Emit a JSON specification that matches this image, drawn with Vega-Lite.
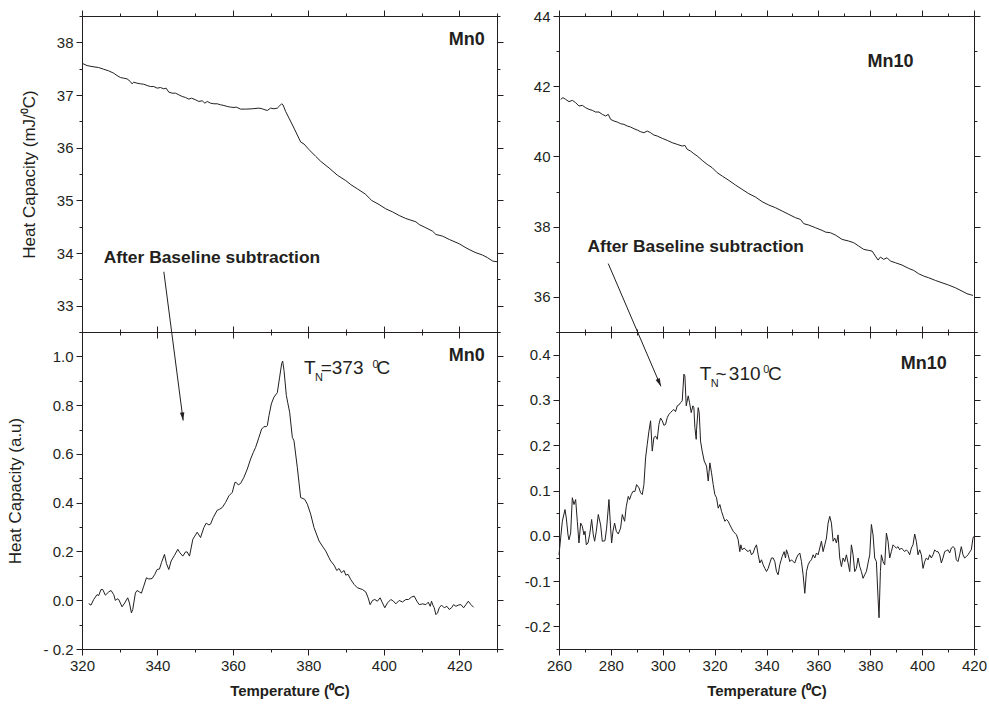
{
 "$schema": "https://vega.github.io/schema/vega-lite/v6.json",
 "background": "white",
 "padding": {"left": 6, "top": 9, "right": 4, "bottom": 4},
 "config": {
  "font": "Liberation Sans",
  "view": {"stroke": null},
  "axis": {"grid": false, "domainColor": "#231f20", "tickColor": "#231f20", "labelColor": "#231f20", "titleColor": "#231f20", "labelFont": "Liberation Sans", "labelFontSize": 15, "titleFont": "Liberation Sans", "labelFlush": false, "labelOverlap": false, "labelPadding": 3, "domainWidth": 1, "tickWidth": 1}
 },
 "datasets": {
  "tl": [{"t":320.00,"c":37.603},{"t":321.33,"c":37.559},{"t":322.65,"c":37.540},{"t":324.42,"c":37.521},{"t":325.75,"c":37.489},{"t":327.08,"c":37.458},{"t":328.41,"c":37.414},{"t":329.29,"c":37.369},{"t":330.18,"c":37.332},{"t":331.06,"c":37.319},{"t":331.95,"c":37.306},{"t":332.83,"c":37.256},{"t":333.27,"c":37.212},{"t":333.72,"c":37.243},{"t":334.60,"c":37.224},{"t":335.49,"c":37.212},{"t":336.37,"c":37.205},{"t":337.26,"c":37.180},{"t":338.14,"c":37.161},{"t":339.03,"c":37.161},{"t":339.91,"c":37.130},{"t":340.80,"c":37.142},{"t":341.68,"c":37.117},{"t":342.30,"c":37.130},{"t":343.01,"c":37.054},{"t":343.89,"c":37.035},{"t":344.78,"c":37.035},{"t":345.66,"c":37.003},{"t":346.55,"c":36.972},{"t":347.43,"c":36.953},{"t":348.32,"c":36.921},{"t":349.03,"c":36.940},{"t":350.09,"c":36.909},{"t":350.97,"c":36.877},{"t":351.86,"c":36.890},{"t":352.57,"c":36.845},{"t":353.19,"c":36.877},{"t":354.07,"c":36.845},{"t":354.96,"c":36.833},{"t":355.84,"c":36.833},{"t":356.73,"c":36.814},{"t":357.61,"c":36.801},{"t":358.50,"c":36.782},{"t":359.38,"c":36.770},{"t":360.27,"c":36.763},{"t":360.88,"c":36.770},{"t":362.04,"c":36.732},{"t":363.36,"c":36.732},{"t":365.13,"c":36.738},{"t":366.90,"c":36.751},{"t":367.79,"c":36.738},{"t":368.50,"c":36.719},{"t":369.12,"c":36.707},{"t":370.00,"c":36.751},{"t":370.88,"c":36.738},{"t":371.77,"c":36.751},{"t":372.39,"c":36.795},{"t":372.92,"c":36.833},{"t":373.27,"c":36.814},{"t":373.98,"c":36.688},{"t":374.87,"c":36.561},{"t":376.19,"c":36.372},{"t":377.96,"c":36.107},{"t":378.85,"c":36.069},{"t":380.18,"c":35.962},{"t":381.95,"c":35.835},{"t":383.27,"c":35.741},{"t":385.49,"c":35.614},{"t":387.70,"c":35.476},{"t":389.91,"c":35.375},{"t":391.24,"c":35.299},{"t":393.01,"c":35.217},{"t":395.04,"c":35.122},{"t":396.11,"c":35.046},{"t":396.81,"c":34.996},{"t":398.76,"c":34.920},{"t":400.53,"c":34.838},{"t":402.30,"c":34.781},{"t":404.07,"c":34.712},{"t":405.84,"c":34.655},{"t":408.50,"c":34.592},{"t":409.38,"c":34.541},{"t":411.15,"c":34.478},{"t":412.92,"c":34.415},{"t":413.81,"c":34.352},{"t":415.58,"c":34.320},{"t":417.35,"c":34.257},{"t":420.00,"c":34.175},{"t":421.77,"c":34.099},{"t":423.10,"c":34.049},{"t":424.42,"c":34.005},{"t":426.19,"c":33.960},{"t":427.52,"c":33.910},{"t":428.85,"c":33.847},{"t":430.00,"c":33.834}],
  "bl": [{"t":321.77,"c":-0.014},{"t":322.39,"c":-0.020},{"t":323.10,"c":0.003},{"t":323.98,"c":0.023},{"t":324.42,"c":0.019},{"t":325.04,"c":0.044},{"t":325.49,"c":0.044},{"t":326.19,"c":0.021},{"t":327.08,"c":0.034},{"t":327.70,"c":0.040},{"t":328.41,"c":0.023},{"t":328.85,"c":-0.001},{"t":329.29,"c":0.006},{"t":329.73,"c":0.003},{"t":330.62,"c":-0.027},{"t":331.33,"c":-0.011},{"t":332.12,"c":0.010},{"t":332.57,"c":-0.011},{"t":333.10,"c":-0.052},{"t":333.45,"c":-0.038},{"t":334.16,"c":0.030},{"t":334.60,"c":0.040},{"t":335.22,"c":0.034},{"t":335.75,"c":0.029},{"t":336.37,"c":0.058},{"t":337.08,"c":0.092},{"t":337.70,"c":0.087},{"t":338.58,"c":0.089},{"t":339.29,"c":0.106},{"t":339.91,"c":0.126},{"t":340.53,"c":0.128},{"t":341.06,"c":0.154},{"t":341.86,"c":0.188},{"t":342.39,"c":0.150},{"t":343.01,"c":0.126},{"t":343.63,"c":0.161},{"t":344.51,"c":0.184},{"t":345.40,"c":0.209},{"t":345.93,"c":0.195},{"t":346.73,"c":0.181},{"t":347.43,"c":0.198},{"t":347.88,"c":0.198},{"t":348.50,"c":0.181},{"t":349.38,"c":0.250},{"t":349.91,"c":0.263},{"t":350.53,"c":0.279},{"t":351.42,"c":0.257},{"t":352.30,"c":0.298},{"t":352.92,"c":0.316},{"t":353.63,"c":0.309},{"t":354.07,"c":0.312},{"t":354.78,"c":0.339},{"t":355.84,"c":0.369},{"t":356.46,"c":0.373},{"t":357.17,"c":0.380},{"t":358.05,"c":0.401},{"t":358.94,"c":0.428},{"t":359.82,"c":0.442},{"t":360.53,"c":0.483},{"t":360.88,"c":0.483},{"t":361.42,"c":0.473},{"t":362.04,"c":0.479},{"t":362.92,"c":0.504},{"t":363.81,"c":0.538},{"t":364.69,"c":0.579},{"t":365.40,"c":0.606},{"t":366.02,"c":0.627},{"t":366.90,"c":0.668},{"t":367.61,"c":0.702},{"t":368.23,"c":0.712},{"t":368.85,"c":0.712},{"t":369.12,"c":0.716},{"t":369.56,"c":0.757},{"t":370.18,"c":0.805},{"t":370.88,"c":0.833},{"t":371.77,"c":0.851},{"t":372.39,"c":0.915},{"t":372.92,"c":0.970},{"t":373.19,"c":0.981},{"t":373.54,"c":0.943},{"t":374.16,"c":0.840},{"t":374.51,"c":0.812},{"t":375.04,"c":0.771},{"t":375.75,"c":0.668},{"t":376.19,"c":0.654},{"t":377.07,"c":0.545},{"t":377.96,"c":0.421},{"t":379.02,"c":0.414},{"t":379.73,"c":0.394},{"t":380.61,"c":0.353},{"t":381.50,"c":0.298},{"t":382.83,"c":0.243},{"t":383.71,"c":0.222},{"t":384.60,"c":0.202},{"t":385.48,"c":0.174},{"t":385.92,"c":0.161},{"t":386.81,"c":0.144},{"t":387.52,"c":0.122},{"t":388.14,"c":0.130},{"t":388.76,"c":0.113},{"t":389.46,"c":0.122},{"t":389.91,"c":0.103},{"t":390.53,"c":0.106},{"t":391.23,"c":0.085},{"t":392.12,"c":0.065},{"t":393.00,"c":0.051},{"t":394.33,"c":0.044},{"t":395.22,"c":0.034},{"t":395.84,"c":0.010},{"t":396.37,"c":-0.018},{"t":396.99,"c":-0.001},{"t":397.61,"c":0.003},{"t":398.31,"c":-0.004},{"t":399.02,"c":0.010},{"t":399.64,"c":-0.011},{"t":400.26,"c":-0.031},{"t":400.97,"c":-0.011},{"t":401.85,"c":0.003},{"t":402.56,"c":-0.004},{"t":403.18,"c":-0.015},{"t":404.07,"c":-0.001},{"t":404.95,"c":-0.007},{"t":405.84,"c":0.003},{"t":406.54,"c":0.003},{"t":407.34,"c":0.013},{"t":408.05,"c":0.017},{"t":408.76,"c":-0.004},{"t":409.38,"c":-0.018},{"t":410.26,"c":-0.015},{"t":411.15,"c":-0.018},{"t":411.77,"c":-0.008},{"t":412.30,"c":-0.025},{"t":412.65,"c":-0.004},{"t":413.00,"c":-0.020},{"t":413.36,"c":-0.031},{"t":413.80,"c":-0.059},{"t":414.24,"c":-0.052},{"t":414.69,"c":-0.031},{"t":415.30,"c":-0.020},{"t":416.01,"c":-0.031},{"t":416.72,"c":-0.025},{"t":417.34,"c":-0.038},{"t":417.96,"c":-0.031},{"t":418.49,"c":-0.018},{"t":419.11,"c":-0.025},{"t":419.73,"c":-0.020},{"t":420.44,"c":-0.018},{"t":421.15,"c":-0.031},{"t":421.77,"c":-0.018},{"t":422.39,"c":-0.004},{"t":423.09,"c":-0.018},{"t":423.80,"c":-0.029}],
  "tr": [{"t":260.64,"c":41.626},{"t":261.54,"c":41.674},{"t":262.57,"c":41.626},{"t":263.85,"c":41.560},{"t":265.14,"c":41.598},{"t":266.42,"c":41.531},{"t":267.70,"c":41.436},{"t":268.99,"c":41.455},{"t":270.27,"c":41.389},{"t":271.56,"c":41.341},{"t":272.84,"c":41.313},{"t":274.12,"c":41.265},{"t":275.41,"c":41.265},{"t":276.69,"c":41.199},{"t":277.98,"c":41.151},{"t":279.00,"c":41.199},{"t":279.90,"c":41.056},{"t":281.19,"c":41.009},{"t":282.47,"c":40.980},{"t":283.75,"c":40.933},{"t":285.04,"c":40.914},{"t":286.32,"c":40.866},{"t":287.61,"c":40.838},{"t":288.89,"c":40.790},{"t":290.17,"c":40.752},{"t":291.46,"c":40.705},{"t":292.74,"c":40.676},{"t":294.03,"c":40.724},{"t":295.31,"c":40.676},{"t":296.59,"c":40.610},{"t":297.88,"c":40.581},{"t":299.80,"c":40.515},{"t":301.73,"c":40.458},{"t":303.66,"c":40.391},{"t":305.58,"c":40.344},{"t":307.51,"c":40.296},{"t":308.54,"c":40.315},{"t":309.44,"c":40.202},{"t":310.72,"c":40.154},{"t":312.00,"c":40.078},{"t":313.29,"c":40.012},{"t":315.21,"c":39.888},{"t":317.14,"c":39.774},{"t":319.07,"c":39.679},{"t":320.99,"c":39.537},{"t":322.92,"c":39.442},{"t":325.49,"c":39.318},{"t":328.05,"c":39.185},{"t":330.62,"c":39.062},{"t":333.19,"c":38.939},{"t":335.76,"c":38.843},{"t":338.33,"c":38.711},{"t":340.89,"c":38.616},{"t":343.46,"c":38.540},{"t":346.03,"c":38.445},{"t":348.60,"c":38.350},{"t":351.17,"c":38.255},{"t":353.09,"c":38.207},{"t":354.38,"c":38.084},{"t":356.30,"c":38.046},{"t":358.87,"c":37.970},{"t":361.44,"c":37.894},{"t":362.72,"c":37.846},{"t":364.65,"c":37.827},{"t":366.58,"c":37.761},{"t":369.14,"c":37.637},{"t":371.71,"c":37.590},{"t":373.64,"c":37.542},{"t":375.56,"c":37.447},{"t":377.49,"c":37.353},{"t":379.42,"c":37.324},{"t":380.70,"c":37.305},{"t":381.98,"c":37.163},{"t":383.01,"c":37.049},{"t":383.91,"c":37.134},{"t":385.19,"c":37.068},{"t":386.48,"c":37.115},{"t":387.76,"c":37.020},{"t":389.69,"c":36.973},{"t":392.26,"c":36.906},{"t":394.83,"c":36.811},{"t":396.75,"c":36.754},{"t":398.68,"c":36.659},{"t":400.60,"c":36.593},{"t":402.53,"c":36.545},{"t":405.10,"c":36.469},{"t":407.66,"c":36.403},{"t":410.23,"c":36.336},{"t":412.80,"c":36.261},{"t":415.37,"c":36.165},{"t":417.29,"c":36.090},{"t":419.61,"c":36.042}],
  "br": [{"t":260.00,"c":-0.042},{"t":260.64,"c":-0.005},{"t":261.28,"c":0.032},{"t":262.31,"c":0.058},{"t":262.82,"c":0.039},{"t":263.47,"c":0.002},{"t":263.85,"c":-0.009},{"t":264.49,"c":0.006},{"t":265.14,"c":0.084},{"t":265.78,"c":0.069},{"t":266.42,"c":0.080},{"t":267.06,"c":0.032},{"t":267.70,"c":-0.016},{"t":268.35,"c":0.028},{"t":268.99,"c":0.021},{"t":269.63,"c":0.002},{"t":270.02,"c":0.010},{"t":270.53,"c":-0.020},{"t":271.17,"c":-0.016},{"t":271.81,"c":0.002},{"t":272.58,"c":0.036},{"t":273.23,"c":0.002},{"t":273.74,"c":-0.012},{"t":274.38,"c":0.010},{"t":275.15,"c":0.047},{"t":276.05,"c":0.024},{"t":276.69,"c":-0.012},{"t":277.72,"c":-0.011},{"t":278.36,"c":0.017},{"t":279.26,"c":0.080},{"t":279.90,"c":0.017},{"t":280.29,"c":-0.016},{"t":280.80,"c":0.010},{"t":281.44,"c":0.028},{"t":282.09,"c":0.010},{"t":282.86,"c":0.004},{"t":283.75,"c":0.017},{"t":284.40,"c":0.047},{"t":285.30,"c":0.032},{"t":285.94,"c":0.065},{"t":286.71,"c":0.087},{"t":287.22,"c":0.080},{"t":287.86,"c":0.091},{"t":288.51,"c":0.098},{"t":289.28,"c":0.098},{"t":289.92,"c":0.113},{"t":290.82,"c":0.106},{"t":291.46,"c":0.095},{"t":292.10,"c":0.091},{"t":292.74,"c":0.113},{"t":293.38,"c":0.172},{"t":294.03,"c":0.202},{"t":294.67,"c":0.231},{"t":295.31,"c":0.254},{"t":295.95,"c":0.187},{"t":296.59,"c":0.217},{"t":297.24,"c":0.220},{"t":297.88,"c":0.213},{"t":298.52,"c":0.246},{"t":299.16,"c":0.260},{"t":299.80,"c":0.254},{"t":300.45,"c":0.244},{"t":301.09,"c":0.246},{"t":301.73,"c":0.261},{"t":302.37,"c":0.268},{"t":303.01,"c":0.272},{"t":303.66,"c":0.276},{"t":304.30,"c":0.279},{"t":304.94,"c":0.274},{"t":305.58,"c":0.287},{"t":306.23,"c":0.289},{"t":306.87,"c":0.294},{"t":307.51,"c":0.298},{"t":308.15,"c":0.357},{"t":308.54,"c":0.353},{"t":309.05,"c":0.287},{"t":309.82,"c":0.309},{"t":310.33,"c":0.294},{"t":310.98,"c":0.272},{"t":311.62,"c":0.287},{"t":312.00,"c":0.283},{"t":312.39,"c":0.239},{"t":312.90,"c":0.213},{"t":313.03,"c":0.235},{"t":313.67,"c":0.283},{"t":314.06,"c":0.272},{"t":314.57,"c":0.209},{"t":315.21,"c":0.187},{"t":315.99,"c":0.165},{"t":316.88,"c":0.154},{"t":317.53,"c":0.121},{"t":318.17,"c":0.161},{"t":318.81,"c":0.139},{"t":319.45,"c":0.113},{"t":320.09,"c":0.091},{"t":320.74,"c":0.084},{"t":321.38,"c":0.061},{"t":322.02,"c":0.069},{"t":322.66,"c":0.054},{"t":323.30,"c":0.043},{"t":323.95,"c":0.032},{"t":324.59,"c":0.036},{"t":325.23,"c":0.032},{"t":325.87,"c":0.024},{"t":326.51,"c":0.017},{"t":327.16,"c":0.010},{"t":327.80,"c":0.006},{"t":328.44,"c":0.002},{"t":329.08,"c":-0.009},{"t":329.72,"c":-0.035},{"t":330.11,"c":-0.020},{"t":330.62,"c":-0.031},{"t":331.39,"c":-0.027},{"t":332.04,"c":-0.031},{"t":332.93,"c":-0.035},{"t":333.58,"c":-0.031},{"t":334.22,"c":-0.042},{"t":334.86,"c":-0.038},{"t":335.50,"c":-0.027},{"t":336.14,"c":-0.020},{"t":336.79,"c":-0.042},{"t":337.43,"c":-0.060},{"t":338.07,"c":-0.053},{"t":338.71,"c":-0.064},{"t":339.35,"c":-0.072},{"t":340.00,"c":-0.079},{"t":340.64,"c":-0.072},{"t":341.28,"c":-0.060},{"t":341.92,"c":-0.049},{"t":342.56,"c":-0.049},{"t":343.21,"c":-0.057},{"t":343.85,"c":-0.079},{"t":344.49,"c":-0.086},{"t":345.13,"c":-0.064},{"t":346.03,"c":-0.046},{"t":346.80,"c":-0.035},{"t":347.32,"c":-0.049},{"t":347.70,"c":-0.031},{"t":348.34,"c":-0.042},{"t":348.99,"c":-0.057},{"t":349.63,"c":-0.053},{"t":350.27,"c":-0.057},{"t":350.91,"c":-0.060},{"t":351.55,"c":-0.049},{"t":352.19,"c":-0.042},{"t":352.84,"c":-0.038},{"t":353.48,"c":-0.057},{"t":354.12,"c":-0.086},{"t":354.76,"c":-0.127},{"t":355.41,"c":-0.079},{"t":356.05,"c":-0.064},{"t":356.69,"c":-0.057},{"t":357.33,"c":-0.053},{"t":357.97,"c":-0.042},{"t":358.62,"c":-0.049},{"t":359.26,"c":-0.038},{"t":359.90,"c":-0.042},{"t":360.54,"c":-0.027},{"t":361.18,"c":-0.012},{"t":361.83,"c":-0.035},{"t":362.47,"c":-0.020},{"t":363.11,"c":-0.005},{"t":363.75,"c":0.028},{"t":364.39,"c":0.043},{"t":365.03,"c":0.028},{"t":365.67,"c":-0.012},{"t":366.32,"c":-0.005},{"t":366.96,"c":-0.016},{"t":367.60,"c":0.002},{"t":368.24,"c":-0.049},{"t":368.88,"c":-0.068},{"t":369.53,"c":-0.049},{"t":370.17,"c":-0.057},{"t":370.81,"c":-0.042},{"t":371.45,"c":-0.060},{"t":372.09,"c":-0.079},{"t":372.74,"c":-0.020},{"t":373.38,"c":-0.042},{"t":374.02,"c":-0.079},{"t":374.66,"c":-0.072},{"t":375.30,"c":-0.049},{"t":375.95,"c":-0.068},{"t":376.59,"c":-0.079},{"t":377.23,"c":-0.094},{"t":377.87,"c":-0.086},{"t":378.51,"c":-0.079},{"t":379.16,"c":-0.060},{"t":379.80,"c":-0.042},{"t":380.44,"c":0.025},{"t":381.08,"c":0.002},{"t":381.72,"c":-0.049},{"t":382.37,"c":-0.057},{"t":383.01,"c":-0.138},{"t":383.39,"c":-0.181},{"t":383.91,"c":-0.079},{"t":384.29,"c":-0.042},{"t":384.93,"c":-0.057},{"t":385.58,"c":-0.064},{"t":386.22,"c":0.006},{"t":386.86,"c":-0.012},{"t":387.50,"c":-0.049},{"t":388.14,"c":-0.035},{"t":388.79,"c":-0.020},{"t":389.43,"c":-0.024},{"t":390.07,"c":-0.027},{"t":390.71,"c":-0.024},{"t":391.35,"c":-0.031},{"t":392.00,"c":-0.027},{"t":392.64,"c":-0.031},{"t":393.28,"c":-0.035},{"t":393.92,"c":-0.031},{"t":394.56,"c":-0.035},{"t":395.21,"c":-0.042},{"t":395.85,"c":-0.027},{"t":396.49,"c":-0.020},{"t":397.13,"c":0.004},{"t":397.77,"c":-0.012},{"t":398.42,"c":-0.042},{"t":399.06,"c":-0.031},{"t":399.70,"c":-0.042},{"t":400.34,"c":-0.072},{"t":400.99,"c":-0.057},{"t":401.63,"c":-0.049},{"t":402.27,"c":-0.053},{"t":402.91,"c":-0.042},{"t":403.55,"c":-0.049},{"t":404.20,"c":-0.042},{"t":404.84,"c":-0.031},{"t":405.48,"c":-0.035},{"t":406.12,"c":-0.035},{"t":406.76,"c":-0.042},{"t":407.41,"c":-0.060},{"t":408.05,"c":-0.049},{"t":408.69,"c":-0.035},{"t":409.33,"c":-0.033},{"t":409.97,"c":-0.031},{"t":410.62,"c":-0.038},{"t":411.26,"c":-0.027},{"t":411.90,"c":-0.024},{"t":412.54,"c":-0.027},{"t":413.18,"c":-0.053},{"t":413.83,"c":-0.057},{"t":414.47,"c":-0.042},{"t":415.11,"c":-0.024},{"t":415.75,"c":-0.042},{"t":416.39,"c":-0.049},{"t":417.04,"c":-0.046},{"t":417.68,"c":-0.042},{"t":418.32,"c":-0.036},{"t":418.96,"c":-0.031},{"t":419.61,"c":-0.005},{"t":420.00,"c":-0.001}],
  "notes": [
   {"panel":"tl","role":"sample","x":422,"y":38.05,"text":"Mn0"},
   {"panel":"tl","role":"note","x":325.76,"y":33.91,"text":"After Baseline subtraction"},
   {"panel":"bl","role":"sample","x":422,"y":1.0,"text":"Mn0"},
   {"panel":"bl","role":"tn","x":378.85,"y":0.929,"text":"T"},
   {"panel":"bl","role":"script","x":381.77,"y":0.901,"text":"N"},
   {"panel":"bl","role":"tn","x":383.26,"y":0.929,"text":"=373"},
   {"panel":"bl","role":"script","x":396.98,"y":0.951,"text":"0"},
   {"panel":"bl","role":"tn","x":398.05,"y":0.929,"text":"C"},
   {"panel":"tr","role":"sample","x":387.8,"y":42.69,"text":"Mn10"},
   {"panel":"tr","role":"note","x":271.0,"y":37.43,"text":"After Baseline subtraction"},
   {"panel":"br","role":"sample","x":400.6,"y":0.379,"text":"Mn10"},
   {"panel":"br","role":"tn","x":314.31,"y":0.345,"text":"T"},
   {"panel":"br","role":"script","x":318.55,"y":0.329,"text":"N"},
   {"panel":"br","role":"tn","x":320.36,"y":0.345,"text":"~"},
   {"panel":"br","role":"tn","x":325.49,"y":0.345,"text":"310"},
   {"panel":"br","role":"script","x":338.70,"y":0.3585,"text":"0"},
   {"panel":"br","role":"tn","x":340.62,"y":0.345,"text":"C"}
  ],
  "arrows": [
   {"panel":"bl","pt":"tail","x":341.69,"y":1.347},
   {"panel":"bl","pt":"tip","x":346.81,"y":0.737},
   {"panel":"br","pt":"tail","x":278.99,"y":0.601},
   {"panel":"br","pt":"tip","x":299.28,"y":0.330}
  ]
 },
 "spacing": 20,
 "hconcat": [
  {"spacing": 0, "bounds": "flush", "vconcat": [
   {"width": 415, "height": 316,
    "resolve": {"axis": {"x": "independent", "y": "independent"}},
    "layer": [
     {"data": {"name": "tl"}, "mark": {"type": "line", "color": "#231f20", "strokeWidth": 1},
      "encoding": {
       "x": {"field": "t", "type": "quantitative", "scale": {"domain": [320, 430], "nice": false, "zero": false},
        "axis": {"orient": "bottom", "values": [320,330,340,350,360,370,380,390,400,410,420,430], "labels": false, "title": null, "tickSize": {"condition": {"test": "datum.value % 20 === 0", "value": 6}, "value": 3}}},
       "y": {"field": "c", "type": "quantitative", "scale": {"domain": [32.5, 38.5], "nice": false, "zero": false},
        "axis": {"orient": "left", "values": [32.5,33,33.5,34,34.5,35,35.5,36,36.5,37,37.5,38,38.5], "labelExpr": "datum.value % 1 === 0 ? format(datum.value, '.0f') : ''", "tickSize": {"condition": {"test": "datum.value % 1 === 0", "value": 6}, "value": 3}, "title": "Heat Capacity (mJ/⁰C)", "titleFontSize": 17, "titleFontWeight": "normal", "titlePadding": 18}}
      }},
     {"data": {"name": "tl"}, "mark": {"type": "line", "strokeOpacity": 0},
      "encoding": {
       "x": {"field": "t", "type": "quantitative", "scale": {"domain": [320, 430], "nice": false, "zero": false},
        "axis": {"orient": "top", "values": [320,330,340,350,360,370,380,390,400,410,420,430], "labels": false, "title": null, "tickSize": {"condition": {"test": "datum.value % 20 === 0", "value": 6}, "value": 3}}},
       "y": {"field": "c", "type": "quantitative", "scale": {"domain": [32.5, 38.5], "nice": false, "zero": false},
        "axis": {"orient": "right", "values": [32.5,33,33.5,34,34.5,35,35.5,36,36.5,37,37.5,38,38.5], "labels": false, "title": null, "tickSize": {"condition": {"test": "datum.value % 1 === 0", "value": 6}, "value": 3}}}
      }},
     {"data": {"name": "notes"}, "transform": [{"filter": "datum.panel === 'tl' && datum.role === 'sample'"}],
      "mark": {"type": "text", "fontWeight": "bold", "fontSize": 18, "align": "center", "baseline": "middle", "color": "#231f20"},
      "encoding": {"x": {"field": "x", "type": "quantitative", "axis": null}, "y": {"field": "y", "type": "quantitative", "axis": null}, "text": {"field": "text"}}},
     {"data": {"name": "notes"}, "transform": [{"filter": "datum.panel === 'tl' && datum.role === 'note'"}],
      "mark": {"type": "text", "fontWeight": "bold", "fontSize": 17.4, "align": "left", "baseline": "middle", "color": "#231f20"},
      "encoding": {"x": {"field": "x", "type": "quantitative", "axis": null}, "y": {"field": "y", "type": "quantitative", "axis": null}, "text": {"field": "text"}}}
    ]},
   {"width": 415, "height": 317,
    "resolve": {"axis": {"x": "independent", "y": "independent"}},
    "layer": [
     {"data": {"name": "bl"}, "mark": {"type": "line", "color": "#231f20", "strokeWidth": 1},
      "encoding": {
       "x": {"field": "t", "type": "quantitative", "scale": {"domain": [320, 430], "nice": false, "zero": false},
        "axis": {"orient": "bottom", "values": [320,330,340,350,360,370,380,390,400,410,420,430], "labelExpr": "datum.value % 20 === 0 && datum.value <= 420 ? datum.label : ''", "tickSize": {"condition": {"test": "datum.value % 20 === 0", "value": 6}, "value": 3}, "title": "Temperature (⁰C)", "titleFontSize": 15, "titleFontWeight": "bold", "titlePadding": 10}},
       "y": {"field": "c", "type": "quantitative", "scale": {"domain": [-0.2, 1.1], "nice": false, "zero": false},
        "axis": {"orient": "left", "values": [-0.2,-0.1,0,0.1,0.2,0.3,0.4,0.5,0.6,0.7,0.8,0.9,1,1.1], "labelExpr": "abs(round(datum.value*10)) % 2 === 0 ? (datum.value < 0 ? '- ' : '') + format(abs(datum.value), '.1f') : ''", "tickSize": {"condition": {"test": "abs(round(datum.value*10)) % 2 === 0", "value": 6}, "value": 3}, "title": "Heat Capacity (a.u)", "titleFontSize": 17, "titleFontWeight": "normal", "titlePadding": 18}}
      }},
     {"data": {"name": "bl"}, "mark": {"type": "line", "strokeOpacity": 0},
      "encoding": {
       "x": {"field": "t", "type": "quantitative", "scale": {"domain": [320, 430], "nice": false, "zero": false},
        "axis": {"orient": "top", "values": [320,330,340,350,360,370,380,390,400,410,420,430], "labels": false, "title": null, "tickSize": {"condition": {"test": "datum.value % 20 === 0", "value": 6}, "value": 3}}},
       "y": {"field": "c", "type": "quantitative", "scale": {"domain": [-0.2, 1.1], "nice": false, "zero": false},
        "axis": {"orient": "right", "values": [-0.2,-0.1,0,0.1,0.2,0.3,0.4,0.5,0.6,0.7,0.8,0.9,1,1.1], "labels": false, "title": null, "tickSize": {"condition": {"test": "abs(round(datum.value*10)) % 2 === 0", "value": 6}, "value": 3}}}
      }},
     {"data": {"name": "arrows"}, "transform": [{"filter": "datum.panel === 'bl'"}],
      "mark": {"type": "line", "color": "#231f20", "strokeWidth": 1},
      "encoding": {"x": {"field": "x", "type": "quantitative", "axis": null}, "y": {"field": "y", "type": "quantitative", "axis": null}}},
     {"data": {"name": "arrows"}, "transform": [{"filter": "datum.panel === 'bl' && datum.pt === 'tip'"}],
      "mark": {"type": "point", "shape": "M0,0L-0.28,-1L0.28,-1Z", "filled": true, "size": 256, "angle": 352.6, "color": "#231f20", "opacity": 1},
      "encoding": {"x": {"field": "x", "type": "quantitative", "axis": null}, "y": {"field": "y", "type": "quantitative", "axis": null}}},
     {"data": {"name": "notes"}, "transform": [{"filter": "datum.panel === 'bl' && datum.role === 'sample'"}],
      "mark": {"type": "text", "fontWeight": "bold", "fontSize": 18, "align": "center", "baseline": "middle", "color": "#231f20"},
      "encoding": {"x": {"field": "x", "type": "quantitative", "axis": null}, "y": {"field": "y", "type": "quantitative", "axis": null}, "text": {"field": "text"}}},
     {"data": {"name": "notes"}, "transform": [{"filter": "datum.panel === 'bl' && datum.role === 'tn'"}],
      "mark": {"type": "text", "fontSize": 19, "align": "left", "baseline": "alphabetic", "color": "#231f20"},
      "encoding": {"x": {"field": "x", "type": "quantitative", "axis": null}, "y": {"field": "y", "type": "quantitative", "axis": null}, "text": {"field": "text"}}},
     {"data": {"name": "notes"}, "transform": [{"filter": "datum.panel === 'bl' && datum.role === 'script'"}],
      "mark": {"type": "text", "fontSize": 11, "align": "left", "baseline": "alphabetic", "color": "#231f20"},
      "encoding": {"x": {"field": "x", "type": "quantitative", "axis": null}, "y": {"field": "y", "type": "quantitative", "axis": null}, "text": {"field": "text"}}}
    ]}
  ]},
  {"spacing": 0, "bounds": "flush", "vconcat": [
   {"width": 415, "height": 316,
    "resolve": {"axis": {"x": "independent", "y": "independent"}},
    "layer": [
     {"data": {"name": "tr"}, "mark": {"type": "line", "color": "#231f20", "strokeWidth": 1},
      "encoding": {
       "x": {"field": "t", "type": "quantitative", "scale": {"domain": [260, 420], "nice": false, "zero": false},
        "axis": {"orient": "bottom", "values": [260,270,280,290,300,310,320,330,340,350,360,370,380,390,400,410,420], "labels": false, "title": null, "tickSize": {"condition": {"test": "datum.value % 20 === 0", "value": 6}, "value": 3}}},
       "y": {"field": "c", "type": "quantitative", "scale": {"domain": [35, 44], "nice": false, "zero": false},
        "axis": {"orient": "left", "values": [35,36,37,38,39,40,41,42,43,44], "labelExpr": "datum.value % 2 === 0 ? format(datum.value, '.0f') : ''", "tickSize": {"condition": {"test": "datum.value % 2 === 0", "value": 6}, "value": 3}, "title": null}}
      }},
     {"data": {"name": "tr"}, "mark": {"type": "line", "strokeOpacity": 0},
      "encoding": {
       "x": {"field": "t", "type": "quantitative", "scale": {"domain": [260, 420], "nice": false, "zero": false},
        "axis": {"orient": "top", "values": [260,270,280,290,300,310,320,330,340,350,360,370,380,390,400,410,420], "labels": false, "title": null, "tickSize": {"condition": {"test": "datum.value % 20 === 0", "value": 6}, "value": 3}}},
       "y": {"field": "c", "type": "quantitative", "scale": {"domain": [35, 44], "nice": false, "zero": false},
        "axis": {"orient": "right", "values": [35,36,37,38,39,40,41,42,43,44], "labels": false, "title": null, "tickSize": {"condition": {"test": "datum.value % 2 === 0", "value": 6}, "value": 3}}}
      }},
     {"data": {"name": "notes"}, "transform": [{"filter": "datum.panel === 'tr' && datum.role === 'sample'"}],
      "mark": {"type": "text", "fontWeight": "bold", "fontSize": 18, "align": "center", "baseline": "middle", "color": "#231f20"},
      "encoding": {"x": {"field": "x", "type": "quantitative", "axis": null}, "y": {"field": "y", "type": "quantitative", "axis": null}, "text": {"field": "text"}}},
     {"data": {"name": "notes"}, "transform": [{"filter": "datum.panel === 'tr' && datum.role === 'note'"}],
      "mark": {"type": "text", "fontWeight": "bold", "fontSize": 17.4, "align": "left", "baseline": "middle", "color": "#231f20"},
      "encoding": {"x": {"field": "x", "type": "quantitative", "axis": null}, "y": {"field": "y", "type": "quantitative", "axis": null}, "text": {"field": "text"}}}
    ]},
   {"width": 415, "height": 317,
    "resolve": {"axis": {"x": "independent", "y": "independent"}},
    "layer": [
     {"data": {"name": "br"}, "mark": {"type": "line", "color": "#231f20", "strokeWidth": 1},
      "encoding": {
       "x": {"field": "t", "type": "quantitative", "scale": {"domain": [260, 420], "nice": false, "zero": false},
        "axis": {"orient": "bottom", "values": [260,270,280,290,300,310,320,330,340,350,360,370,380,390,400,410,420], "labelExpr": "datum.value % 20 === 0 ? datum.label : ''", "tickSize": {"condition": {"test": "datum.value % 20 === 0", "value": 6}, "value": 3}, "title": "Temperature (⁰C)", "titleFontSize": 15, "titleFontWeight": "bold", "titlePadding": 10}},
       "y": {"field": "c", "type": "quantitative", "scale": {"domain": [-0.25, 0.45], "nice": false, "zero": false},
        "axis": {"orient": "left", "values": [-0.25,-0.2,-0.15,-0.1,-0.05,0,0.05,0.1,0.15,0.2,0.25,0.3,0.35,0.4,0.45], "labelExpr": "abs(round(datum.value*20)) % 2 === 0 ? (datum.value < 0 ? '-' : '') + format(abs(datum.value), '.1f') : ''", "tickSize": {"condition": {"test": "abs(round(datum.value*20)) % 2 === 0", "value": 6}, "value": 3}, "title": null}}
      }},
     {"data": {"name": "br"}, "mark": {"type": "line", "strokeOpacity": 0},
      "encoding": {
       "x": {"field": "t", "type": "quantitative", "scale": {"domain": [260, 420], "nice": false, "zero": false},
        "axis": {"orient": "top", "values": [260,270,280,290,300,310,320,330,340,350,360,370,380,390,400,410,420], "labels": false, "title": null, "tickSize": {"condition": {"test": "datum.value % 20 === 0", "value": 6}, "value": 3}}},
       "y": {"field": "c", "type": "quantitative", "scale": {"domain": [-0.25, 0.45], "nice": false, "zero": false},
        "axis": {"orient": "right", "values": [-0.25,-0.2,-0.15,-0.1,-0.05,0,0.05,0.1,0.15,0.2,0.25,0.3,0.35,0.4,0.45], "labels": false, "title": null, "tickSize": {"condition": {"test": "abs(round(datum.value*20)) % 2 === 0", "value": 6}, "value": 3}}}
      }},
     {"data": {"name": "arrows"}, "transform": [{"filter": "datum.panel === 'br'"}],
      "mark": {"type": "line", "color": "#231f20", "strokeWidth": 1},
      "encoding": {"x": {"field": "x", "type": "quantitative", "axis": null}, "y": {"field": "y", "type": "quantitative", "axis": null}}},
     {"data": {"name": "arrows"}, "transform": [{"filter": "datum.panel === 'br' && datum.pt === 'tip'"}],
      "mark": {"type": "point", "shape": "M0,0L-0.28,-1L0.28,-1Z", "filled": true, "size": 256, "angle": 336.7, "color": "#231f20", "opacity": 1},
      "encoding": {"x": {"field": "x", "type": "quantitative", "axis": null}, "y": {"field": "y", "type": "quantitative", "axis": null}}},
     {"data": {"name": "notes"}, "transform": [{"filter": "datum.panel === 'br' && datum.role === 'sample'"}],
      "mark": {"type": "text", "fontWeight": "bold", "fontSize": 18, "align": "center", "baseline": "middle", "color": "#231f20"},
      "encoding": {"x": {"field": "x", "type": "quantitative", "axis": null}, "y": {"field": "y", "type": "quantitative", "axis": null}, "text": {"field": "text"}}},
     {"data": {"name": "notes"}, "transform": [{"filter": "datum.panel === 'br' && datum.role === 'tn'"}],
      "mark": {"type": "text", "fontSize": 19, "align": "left", "baseline": "alphabetic", "color": "#231f20"},
      "encoding": {"x": {"field": "x", "type": "quantitative", "axis": null}, "y": {"field": "y", "type": "quantitative", "axis": null}, "text": {"field": "text"}}},
     {"data": {"name": "notes"}, "transform": [{"filter": "datum.panel === 'br' && datum.role === 'script'"}],
      "mark": {"type": "text", "fontSize": 11, "align": "left", "baseline": "alphabetic", "color": "#231f20"},
      "encoding": {"x": {"field": "x", "type": "quantitative", "axis": null}, "y": {"field": "y", "type": "quantitative", "axis": null}, "text": {"field": "text"}}}
    ]}
  ]}
 ]
}
